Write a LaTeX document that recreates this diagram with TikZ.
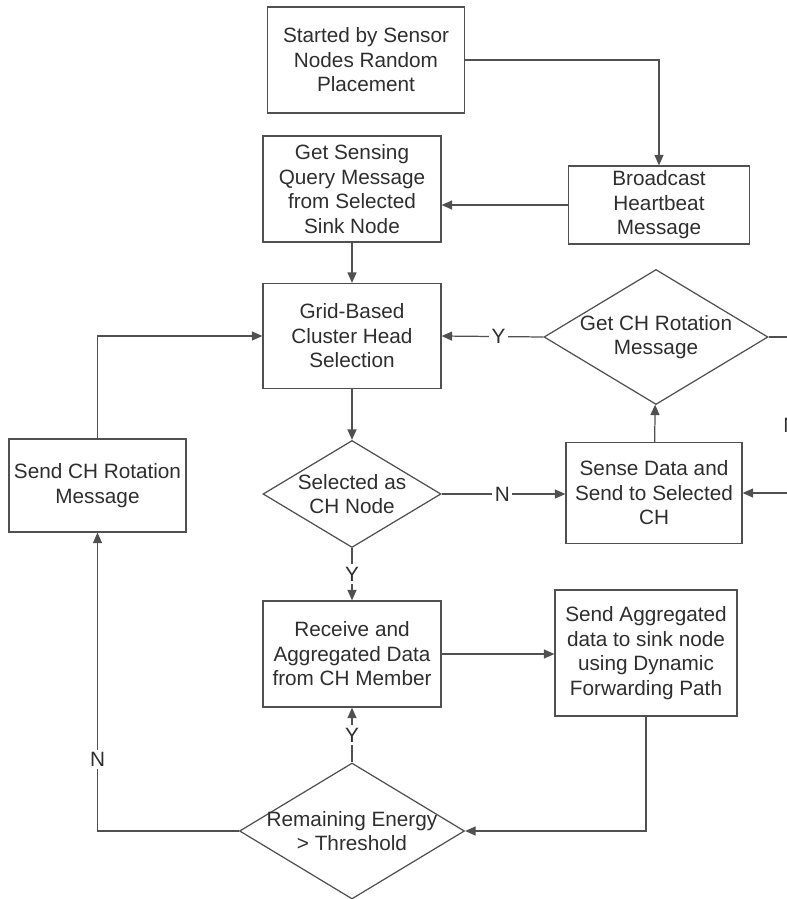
\documentclass[tikz,border=0pt]{standalone}
\usepackage{fontspec}
\setmainfont{Liberation Sans}
\usetikzlibrary{shapes.geometric,arrows.meta}
\definecolor{linegray}{HTML}{505050}
\definecolor{textgray}{HTML}{2E2E2E}
\tikzset{
  txt/.style={text=textgray, font=\fontsize{11.8}{13.9}\selectfont},
  blk/.style={txt, draw=linegray, line width=0.7pt, align=center, inner sep=0pt},
  dec/.style={draw=linegray, line width=0.7pt, diamond, inner sep=0pt},
  conn/.style={draw=linegray, line width=0.7pt, -{Triangle[length=2.1mm,width=1.8mm]}},
  plain/.style={draw=linegray, line width=0.7pt},
  yn/.style={txt, fill=white, inner sep=1.5pt}
}
\begin{document}
\begin{tikzpicture}
\useasboundingbox (0,0) rectangle (15.72,-17.98);
\node[blk, minimum width=3.94cm, minimum height=2.12cm] (start) at (7.32,-1.20) {Started by Sensor\\Nodes Random\\Placement};
\node[blk, minimum width=3.62cm, minimum height=1.56cm] (bcast) at (13.18,-4.10) {Broadcast\\Heartbeat\\Message};
\node[blk, minimum width=3.56cm, minimum height=2.12cm] (query) at (7.04,-3.78) {Get Sensing\\Query Message\\from Selected\\Sink Node};
\node[blk, minimum width=3.56cm, minimum height=2.10cm] (grid) at (7.04,-6.72) {Grid-Based\\Cluster Head\\Selection};
\node[dec, minimum width=4.48cm, minimum height=2.70cm, label={[txt, align=center]center:Get CH Rotation\\Message}] (getch) at (13.12,-6.74) {};
\node[blk, minimum width=3.52cm, minimum height=2.02cm] (sense) at (13.08,-9.86) {Sense Data and\\Send to Selected\\CH};
\node[dec, minimum width=3.56cm, minimum height=2.14cm, label={[txt, align=center]center:Selected as\\CH Node}] (selch) at (7.04,-9.88) {};
\node[blk, minimum width=3.54cm, minimum height=1.86cm] (sendrot) at (1.95,-9.71) {Send CH Rotation\\Message};
\node[blk, minimum width=3.56cm, minimum height=2.12cm] (recv) at (7.04,-13.08) {Receive and\\Aggregated Data\\from CH Member};
\node[blk, minimum width=3.64cm, minimum height=2.52cm] (aggr) at (12.92,-13.06) {Send Aggregated\\data to sink node\\using Dynamic\\Forwarding Path};
\node[dec, minimum width=4.50cm, minimum height=2.72cm, label={[txt, align=center]center:Remaining Energy\\> Threshold}] (energy) at (7.04,-16.62) {};
\coordinate (rtop) at (16.2,-6.74);
\coordinate (rbot) at (16.2,-9.86);
\draw[conn] (start.east) -| (bcast.north);
\draw[conn] (bcast.west) -- (bcast.west -| query.east);
\draw[conn] (query) -- (grid);
\draw[conn] (getch.west) -- node[yn, pos=0.44] {Y} (grid.east);
\draw[conn] (sense) -- (getch);
\draw[plain] (getch.east) -- (rtop) -- (rbot);
\draw[conn] (rbot) -- (sense.east);
\node[txt, anchor=west, inner sep=0pt] (nright) at (15.66,-8.50) {N};
\draw[conn] (grid) -- (selch);
\draw[conn] (selch.east) -- node[yn, pos=0.49] {N} (selch.east -| sense.west);
\draw[conn] (selch) -- node[yn] {Y} (recv);
\draw[conn] (recv.east) -- (recv.east -| aggr.west);
\draw[conn] (aggr.south) |- (energy.east);
\draw[conn] (energy) -- node[yn] {Y} (recv);
\draw[conn] (energy.west) -| node[yn, pos=0.62] {N} (sendrot.south);
\draw[conn] (sendrot.north) |- (grid.west);
\end{tikzpicture}
\end{document}
